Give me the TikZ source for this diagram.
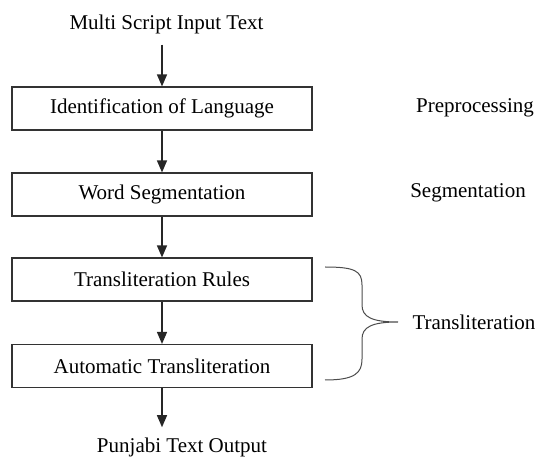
\documentclass[tikz,border=0pt]{standalone}
\usepackage{fontspec}
\setmainfont{Liberation Serif}
\usetikzlibrary{arrows.meta}
\tikzset{
  stepbox/.style={rectangle,draw=black!80,line width=1.1pt,minimum width=300pt,minimum height=43pt,inner sep=0pt},
  flow/.style={-{Triangle[length=12pt,width=10pt]},line width=1.3pt,black!85},
  lbl/.style={inner sep=0pt}
}

\begin{document}
\begin{tikzpicture}[x=1pt,y=1pt,font=\fontsize{21}{24}\selectfont]
\useasboundingbox (0,0) rectangle (537,457);
\node[lbl,anchor=base] (inp) at (166.5,427) {Multi Script Input Text};
\node[stepbox] (a) at (162,348.5) {Identification of Language};
\node[stepbox] (b) at (162,262.5) {Word Segmentation};
\node[stepbox] (c) at (162,177.5) {Transliteration Rules};
\node[stepbox] (d) at (162,91) {Automatic Transliteration};
\node[lbl,anchor=base] (outp) at (182,5) {Punjabi Text Output};

\node[lbl] (pre) at (475,349) {Preprocessing};
\node[lbl] (seg) at (468,264) {Segmentation};
\node[lbl] (tra) at (474,135) {Transliteration};

\draw[flow,shorten <=10pt] (a.north |- inp.south) -- (a);
\draw[flow] (a) -- (b);
\draw[flow] (b) -- (c);
\draw[flow] (c) -- (d);
\draw[flow,shorten >=10pt] (d) -- (d.south |- outp.north);

% brace
\draw[black!70,line width=1pt] (325,190) .. controls (355,190) and (362,186) .. (362,172) -- (362,152)
  .. controls (362,140) and (372,135) .. (398,135)
  .. controls (372,135) and (362,130) .. (362,118) -- (362,98)
  .. controls (362,84) and (355,77) .. (325,77);
\end{tikzpicture}
\end{document}
